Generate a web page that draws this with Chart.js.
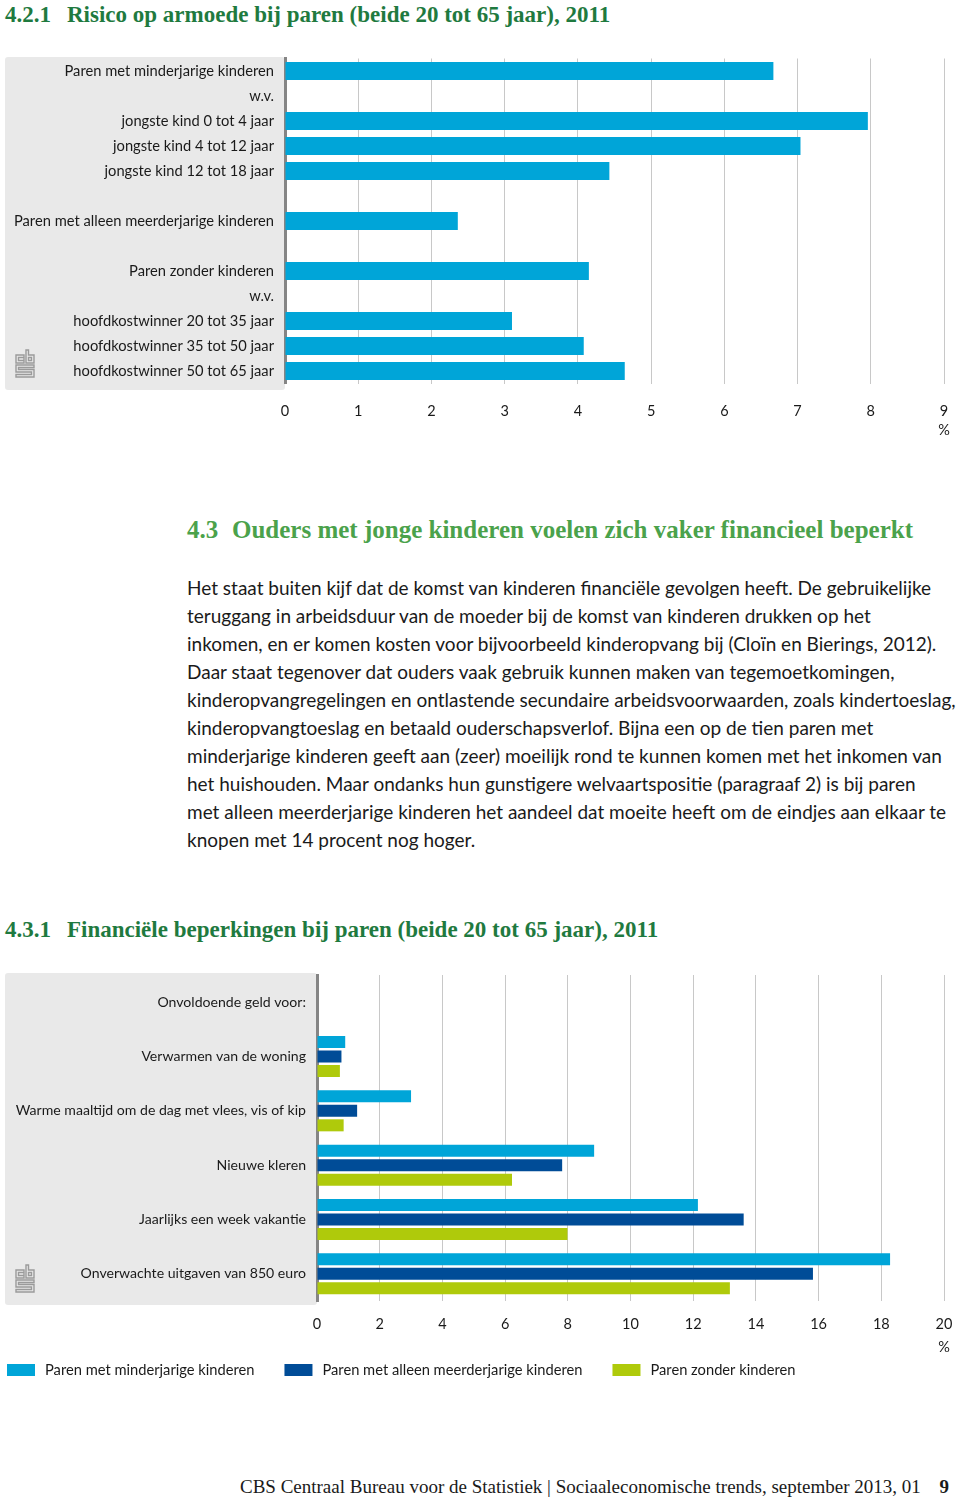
<!DOCTYPE html>
<html>
<head>
<meta charset="utf-8">
<script src="https://cdn.jsdelivr.net/npm/chart.js"></script>
<style>
  body { margin: 0; width: 960px; height: 1499px; position: relative; background: #fff; font-family: Lato, sans-serif; color: #1a1a1a; overflow: hidden; }
  .title { position: absolute; left: 5px; font-family: "Liberation Serif", serif; font-weight: bold; font-size: 23px; line-height: 26px; color: #1f7a3f; white-space: nowrap; }
  .title .nr { display: inline-block; width: 62px; }
  .head { position: absolute; left: 187px; top: 516px; font-family: "Liberation Serif", serif; font-weight: bold; font-size: 25px; line-height: 28px; color: #4ba24b; white-space: nowrap; }
  .head .nr { display: inline-block; width: 45px; }
  .body { position: absolute; left: 187px; top: 574px; font-size: 19px; line-height: 28px; white-space: nowrap; }
  .foot { position: absolute; left: 240px; top: 1476px; font-family: "Liberation Serif", serif; font-size: 19px; line-height: 22px; white-space: nowrap; }
  .foot b { margin-left: 14px; }
  .box { position: absolute; left: 0; }
</style>
</head>
<body>

<div class="title" style="top:2px"><span class="nr">4.2.1</span>Risico op armoede bij paren (beide 20 tot 65 jaar), 2011</div>
<div class="box" style="top:45px"><canvas id="chart1" width="960" height="400"></canvas></div>

<div class="head"><span class="nr">4.3</span>Ouders met jonge kinderen voelen zich vaker financieel beperkt</div>
<div class="body">
  <div>Het staat buiten kijf dat de komst van kinderen financiële gevolgen heeft. De gebruikelijke</div>
  <div>teruggang in arbeidsduur van de moeder bij de komst van kinderen drukken op het</div>
  <div>inkomen, en er komen kosten voor bijvoorbeeld kinderopvang bij (Cloïn en Bierings, 2012).</div>
  <div>Daar staat tegenover dat ouders vaak gebruik kunnen maken van tegemoetkomingen,</div>
  <div>kinderopvangregelingen en ontlastende secundaire arbeidsvoorwaarden, zoals kindertoeslag,</div>
  <div>kinderopvangtoeslag en betaald ouderschapsverlof. Bijna een op de tien paren met</div>
  <div>minderjarige kinderen geeft aan (zeer) moeilijk rond te kunnen komen met het inkomen van</div>
  <div>het huishouden. Maar ondanks hun gunstigere welvaartspositie (paragraaf 2) is bij paren</div>
  <div>met alleen meerderjarige kinderen het aandeel dat moeite heeft om de eindjes aan elkaar te</div>
  <div>knopen met 14 procent nog hoger.</div>
</div>

<div class="title" style="top:917px"><span class="nr">4.3.1</span>Financiële beperkingen bij paren (beide 20 tot 65 jaar), 2011</div>
<div class="box" style="top:960px"><canvas id="chart2" width="960" height="430"></canvas></div>

<div class="foot">CBS Centraal Bureau voor de Statistiek | Sociaaleconomische trends, september 2013, 01 <b>9</b></div>

<script>
// chart 1: risico op armoede (%)
const armoedeLabels = [
  'Paren met minderjarige kinderen',
  'w.v.',
  'jongste kind 0 tot 4 jaar',
  'jongste kind 4 tot 12 jaar',
  'jongste kind 12 tot 18 jaar',
  '',
  'Paren met alleen meerderjarige kinderen',
  '',
  'Paren zonder kinderen',
  'w.v.',
  'hoofdkostwinner 20 tot 35 jaar',
  'hoofdkostwinner 35 tot 50 jaar',
  'hoofdkostwinner 50 tot 65 jaar'
]
const armoedeValues = [6.67, null, 7.96, 7.04, 4.43, null, 2.36, null, 4.15, null, 3.10, 4.08, 4.64]

// chart 2: financiele beperkingen (%)
const beperkingLabels = [
  'Onvoldoende geld voor:',
  'Verwarmen van de woning',
  'Warme maaltijd om de dag met vlees, vis of kip',
  'Nieuwe kleren',
  'Jaarlijks een week vakantie',
  'Onverwachte uitgaven van 850 euro'
]
const seriesNames = ['Paren met minderjarige kinderen', 'Paren met alleen meerderjarige kinderen', 'Paren zonder kinderen']
const minderjarig = [null, 0.90, 3.00, 8.84, 12.15, 18.28]
const meerderjarig = [null, 0.78, 1.28, 7.82, 13.61, 15.82]
const zonderKind = [null, 0.73, 0.85, 6.22, 7.99, 13.17]

const lightBlue = '#00a5d8'
const darkBlue = '#004c97'
const green = '#afca0b'
const textColor = '#1a1a1a'

Chart.defaults.font.family = 'Lato, sans-serif'
Chart.defaults.font.size = 14
Chart.defaults.color = textColor

function drawLogo(ctx, x, y) {
  ctx.save()
  ctx.translate(x, y)
  ctx.strokeStyle = '#9a9a9a'
  ctx.lineWidth = 1.4
  ctx.beginPath()
  // c
  ctx.rect(1, 5, 8, 8)
  ctx.rect(3.5, 7.5, 5.5, 3)
  // b
  ctx.moveTo(11, 0); ctx.lineTo(11, 13); ctx.lineTo(19, 13); ctx.lineTo(19, 5); ctx.lineTo(13.5, 5); ctx.lineTo(13.5, 0); ctx.closePath()
  ctx.rect(13.5, 7.5, 3, 3)
  // s
  ctx.moveTo(19, 15); ctx.lineTo(1, 15); ctx.lineTo(1, 22); ctx.lineTo(16.5, 22); ctx.lineTo(16.5, 24.5); ctx.lineTo(1, 24.5); ctx.lineTo(1, 27); ctx.lineTo(19, 27); ctx.lineTo(19, 19.5); ctx.lineTo(3.5, 19.5); ctx.lineTo(3.5, 17.5); ctx.lineTo(19, 17.5); ctx.closePath()
  ctx.stroke()
  ctx.restore()
}

const panelPlugin = {
  id: 'panel',
  beforeDraw(chart, args, opts) {
    const {ctx, chartArea} = chart
    const top = chartArea.top - opts.above
    const bottom = chartArea.bottom + opts.below
    ctx.save()
    ctx.fillStyle = '#e9e9e9'
    ctx.beginPath()
    ctx.roundRect(5, top, chartArea.left - 5, bottom - top, 3)
    ctx.fill()
    ctx.restore()
    drawLogo(ctx, 15, bottom - 40)
  },
  afterDraw(chart, args, opts) {
    const {ctx, chartArea, scales} = chart
    ctx.save()
    ctx.font = '14.5px Lato'
    ctx.fillStyle = textColor
    ctx.textAlign = 'center'
    ctx.textBaseline = 'middle'
    ctx.fillText('%', scales.x.getPixelForValue(scales.x.max), chartArea.bottom + opts.percentY)
    if (opts.legend) {
      let x = 7
      const y = chartArea.bottom + opts.legendY
      ctx.font = '14.7px Lato'
      ctx.textAlign = 'left'
      chart.data.datasets.forEach(ds => {
        ctx.fillStyle = ds.backgroundColor
        ctx.fillRect(x, y - 6, 28, 12)
        ctx.fillStyle = textColor
        ctx.fillText(ds.label, x + 38, y)
        x += 38 + ctx.measureText(ds.label).width + 30
      })
    }
    ctx.restore()
  }
}

function barOptions(max, step, yWidth, xHeight, tickPad, labelSize, panel) {
  return {
    indexAxis: 'y',
    responsive: false,
    animation: false,
    devicePixelRatio: 1,
    layout: { padding: { left: 5, right: 16, top: 0, bottom: 0 } },
    plugins: {
      legend: { display: false },
      tooltip: { enabled: false },
      panel: panel
    },
    scales: {
      x: {
        min: 0,
        max: max,
        ticks: { stepSize: step, padding: tickPad, maxRotation: 0, font: { size: 14.5 } },
        grid: { color: '#c8c8c8', lineWidth: 1, drawTicks: false },
        border: { display: false },
        afterFit(scale) {
          scale.height = xHeight
          scale.paddingLeft = 0
          scale.paddingRight = 0
        }
      },
      y: {
        ticks: { padding: 11, autoSkip: false, font: { size: labelSize } },
        grid: { display: false, drawTicks: false },
        border: { display: true, color: '#858585', width: 3 },
        afterFit(scale) {
          scale.width = yWidth
          scale.paddingTop = 0
          scale.paddingBottom = 0
        }
      }
    }
  }
}

const opts1 = barOptions(9, 1, 280, 400 - (383.5 - 45), 19, 14.7, { above: 1.5, below: 6.5, percentY: 46.5 })
opts1.layout.padding.top = 13.5
const chart1 = new Chart(document.getElementById('chart1'), {
  type: 'bar',
  data: {
    labels: armoedeLabels,
    datasets: [{
      label: 'Risico op armoede',
      data: armoedeValues,
      backgroundColor: lightBlue,
      categoryPercentage: 1,
      barPercentage: 0.72
    }]
  },
  options: opts1,
  plugins: [panelPlugin]
})

const opts2 = barOptions(20, 2, 312, 430 - (1301 - 960), 15, 14.1, { above: 2, below: 4, percentY: 46, legend: true, legendY: 69 })
opts2.layout.padding.top = 15
const chart2 = new Chart(document.getElementById('chart2'), {
  type: 'bar',
  data: {
    labels: beperkingLabels,
    datasets: [
      { label: seriesNames[0], data: minderjarig, backgroundColor: lightBlue, categoryPercentage: 0.8, barPercentage: 0.83 },
      { label: seriesNames[1], data: meerderjarig, backgroundColor: darkBlue, categoryPercentage: 0.8, barPercentage: 0.83 },
      { label: seriesNames[2], data: zonderKind, backgroundColor: green, categoryPercentage: 0.8, barPercentage: 0.83 }
    ]
  },
  options: opts2,
  plugins: [panelPlugin]
})
</script>
</body>
</html>
